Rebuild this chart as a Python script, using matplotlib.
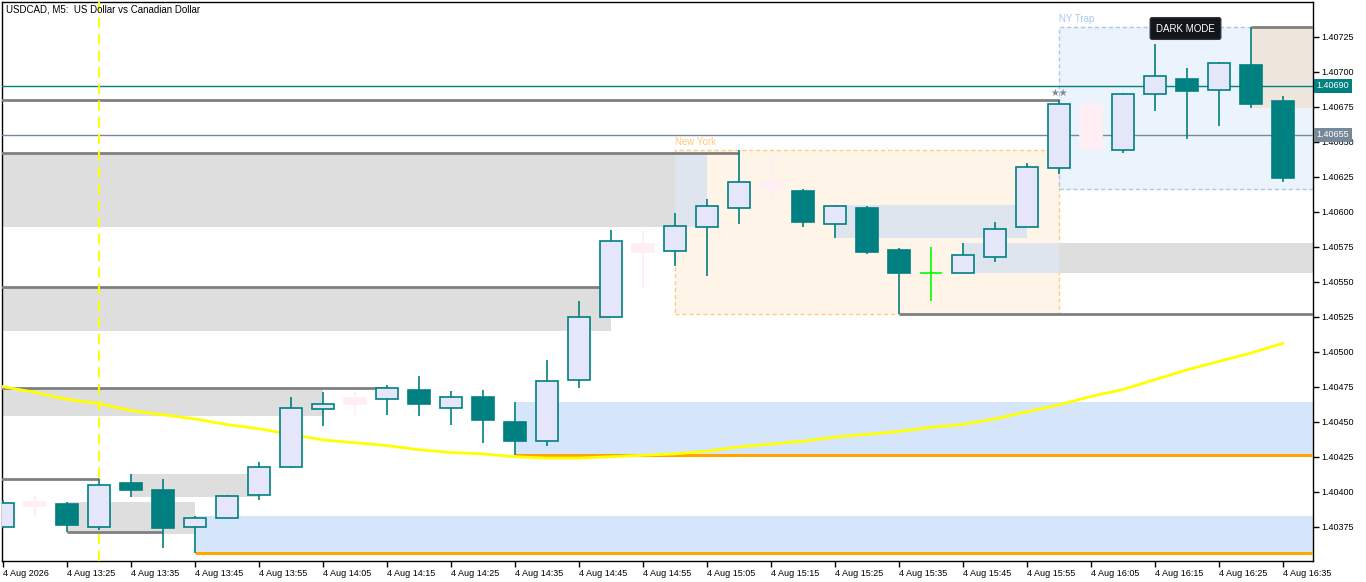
import matplotlib
matplotlib.use("Agg")
import matplotlib.pyplot as plt
from matplotlib.patches import Rectangle

plt.rcParams['font.family'] = ['Liberation Sans', 'DejaVu Sans']

#-------------------------------------------------------------------------------
# USDCAD M5 candles, 13:15 .. 16:35 (one per 5 minutes)
opens  = [1.40375, 1.40390, 1.40391, 1.40375, 1.40406, 1.40401, 1.40375, 1.40381,
          1.40398, 1.40418, 1.40459, 1.40463, 1.40466, 1.40473, 1.40460, 1.40468,
          1.40450, 1.40436, 1.40480, 1.40525, 1.40571, 1.40572, 1.40589, 1.40603,
          1.40616, 1.40615, 1.40591, 1.40603, 1.40573, 1.40556, 1.40556, 1.40568,
          1.40589, 1.40631, 1.40645, 1.40644, 1.40684, 1.40695, 1.40687, 1.40705,
          1.40679]
highs  = [1.40394, 1.40398, 1.40393, 1.40409, 1.40413, 1.40409, 1.40383, 1.40398,
          1.40421, 1.40468, 1.40471, 1.40471, 1.40476, 1.40483, 1.40472, 1.40473,
          1.40464, 1.40494, 1.40536, 1.40587, 1.40586, 1.40599, 1.40609, 1.40644,
          1.40641, 1.40616, 1.40605, 1.40604, 1.40574, 1.40575, 1.40578, 1.40593,
          1.40635, 1.40680, 1.40682, 1.40685, 1.40720, 1.40703, 1.40707, 1.40732,
          1.40683]
lows   = [1.40374, 1.40382, 1.40371, 1.40373, 1.40396, 1.40360, 1.40356, 1.40381,
          1.40394, 1.40417, 1.40447, 1.40455, 1.40455, 1.40454, 1.40448, 1.40435,
          1.40426, 1.40433, 1.40474, 1.40525, 1.40545, 1.40561, 1.40554, 1.40591,
          1.40607, 1.40589, 1.40581, 1.40570, 1.40527, 1.40536, 1.40556, 1.40564,
          1.40589, 1.40627, 1.40643, 1.40642, 1.40672, 1.40652, 1.40661, 1.40674,
          1.40621]
closes = [1.40392, 1.40393, 1.40376, 1.40405, 1.40401, 1.40374, 1.40381, 1.40397,
          1.40418, 1.40460, 1.40463, 1.40467, 1.40474, 1.40463, 1.40468, 1.40451,
          1.40436, 1.40479, 1.40525, 1.40579, 1.40577, 1.40590, 1.40604, 1.40621,
          1.40621, 1.40593, 1.40604, 1.40571, 1.40556, 1.40556, 1.40569, 1.40588,
          1.40632, 1.40677, 1.40676, 1.40684, 1.40697, 1.40686, 1.40706, 1.40677,
          1.40624]
# n = normal, p = faded pink, g = green doji
kinds = ['n', 'p', 'n', 'n', 'n', 'n', 'n', 'n', 'n', 'n', 'n', 'p', 'n', 'n',
         'n', 'n', 'n', 'n', 'n', 'n', 'p', 'n', 'n', 'n', 'p', 'n', 'n', 'n',
         'n', 'g', 'n', 'n', 'n', 'n', 'p', 'n', 'n', 'n', 'n', 'n', 'n']

# yellow moving average
ma = [1.40475, 1.40471, 1.40466, 1.40463, 1.40458, 1.40455, 1.40452, 1.40448,
      1.40445, 1.40441, 1.40437, 1.40435, 1.40433, 1.40430, 1.40428, 1.40427,
      1.40425, 1.40424, 1.40424, 1.40425, 1.40426, 1.40427, 1.40429, 1.40432,
      1.40434, 1.40436, 1.40439, 1.40441, 1.40443, 1.40446, 1.40448, 1.40452,
      1.40457, 1.40462, 1.40468, 1.40473, 1.40480, 1.40487, 1.40493, 1.40499,
      1.40506]

time_labels = ['4 Aug 2026', '4 Aug 13:25', '4 Aug 13:35', '4 Aug 13:45', '4 Aug 13:55',
               '4 Aug 14:05', '4 Aug 14:15', '4 Aug 14:25', '4 Aug 14:35', '4 Aug 14:45',
               '4 Aug 14:55', '4 Aug 15:05', '4 Aug 15:15', '4 Aug 15:25', '4 Aug 15:35',
               '4 Aug 15:45', '4 Aug 15:55', '4 Aug 16:05', '4 Aug 16:15', '4 Aug 16:25',
               '4 Aug 16:35']
price_ticks = [1.40375, 1.40400, 1.40425, 1.40450, 1.40475, 1.40500, 1.40525, 1.40550,
               1.40575, 1.40600, 1.40625, 1.40650, 1.40675, 1.40700, 1.40725]

# zones: (start bar, end bar, low, high)  end 99 = to the right edge
gray_zones = [(-1, 22, 1.40589, 1.40642), (-1, 19, 1.40515, 1.40546),
              (-1, 10, 1.40454, 1.40474), (4, 8, 1.40396, 1.40413),
              (2, 6, 1.40370, 1.40393), (26, 32, 1.40581, 1.40605),
              (30, 99, 1.40556, 1.40578)]
blue_zones = [(16, 99, 1.40426, 1.40464), (6, 99, 1.40356, 1.40383)]
tan_zone = (39, 99, 1.40674, 1.40732)
# level lines: (start bar, end bar, price)
gray_lines = [(-1, 23, 1.40642), (-1, 19, 1.40546), (-1, 12, 1.40474),
              (-1, 3, 1.40409), (2, 5, 1.40371), (28, 99, 1.40527),
              (-1, 33, 1.40680), (39, 99, 1.40732)]
orange_lines = [(16, 99, 1.40426), (6, 99, 1.40356)]
ny_box = (21, 33, 1.40527, 1.40644)
ny_trap = (33, 99, 1.40616, 1.40732)
bid = 1.40690
level2 = 1.40655
vline_bar = 3

#-------------------------------------------------------------------------------
W, H = 1366, 582
fig = plt.figure(figsize=(W / 100, H / 100), dpi=100)
ax = fig.add_axes([2.3 / W, (H - 561) / H, (1313.3 - 2.3) / W, (561 - 2) / H])
x_lo, x_hi = -0.0125, 40.956
ax.set_xlim(x_lo, x_hi)
ax.set_ylim(1.403505, 1.407498)

def span(a, b):
	return max(a, x_lo - 1), min(b, x_hi + 1)

# NY boxes
x0, x1 = span(ny_box[0], ny_box[1])
ax.add_patch(Rectangle((x0, ny_box[2]), x1 - x0, ny_box[3] - ny_box[2],
                       fc='#FEF5E8', ec='#FFCC80', ls=(0, (3, 2)), lw=1, zorder=1))
ax.text(x0, ny_box[3] + 0.00002, 'New York', color='#FFC878', fontsize=7,
        va='bottom', ha='left', zorder=6)
x0, x1 = span(ny_trap[0], ny_trap[1])
ax.add_patch(Rectangle((x0, ny_trap[2]), x1 - x0, ny_trap[3] - ny_trap[2],
                       fc='#EBF3FD', ec='#A8C8F0', ls=(0, (3, 2)), lw=1, zorder=1))
ax.text(x0, ny_trap[3] + 0.00002, 'NY Trap', color='#A8C8F0', fontsize=7,
        va='bottom', ha='left', zorder=6)

# zones (parts inside the New York box look bluish)
for (a, b, lo, hi) in gray_zones:
	x0, x1 = span(a, b)
	ax.add_patch(Rectangle((x0, lo), x1 - x0, hi - lo, fc='#DEDEDE', ec='none', zorder=2))
	o0, o1 = max(x0, ny_box[0]), min(x1, ny_box[1])
	if o1 > o0:
		olo, ohi = max(lo, ny_box[2]), min(hi, ny_box[3])
		ax.add_patch(Rectangle((o0, olo), o1 - o0, ohi - olo, fc='#DFE5EE', ec='none', zorder=2))
for (a, b, lo, hi) in blue_zones:
	x0, x1 = span(a, b)
	ax.add_patch(Rectangle((x0, lo), x1 - x0, hi - lo, fc='#D6E6FA', ec='none', zorder=2))
x0, x1 = span(tan_zone[0], tan_zone[1])
ax.add_patch(Rectangle((x0, tan_zone[2]), x1 - x0, tan_zone[3] - tan_zone[2],
                       fc='#EEE6DC', ec='none', zorder=2))

for (a, b, p) in gray_lines:
	x0, x1 = span(a, b)
	ax.plot([x0, x1], [p, p], color='#808080', lw=2, zorder=3, solid_capstyle='butt')
for (a, b, p) in orange_lines:
	x0, x1 = span(a, b)
	ax.plot([x0, x1], [p, p], color='#FFA500', lw=2.2, zorder=3, solid_capstyle='butt')

ax.axhline(bid, color='#008080', lw=1, zorder=3)
ax.axhline(level2, color='#778899', lw=1, zorder=3)
ax.axvline(vline_bar, color='#FFFF00', lw=1.5, ls=(0, (5, 3)), zorder=3)

# moving average
ax.plot(range(len(ma)), ma, color='#FFFF00', lw=2, zorder=4)

# candles
bw = 0.69
for i in range(len(opens)):
	o, h, l, c = opens[i], highs[i], lows[i], closes[i]
	if kinds[i] == 'g':
		ax.vlines(i, l, h, color='#00FF00', lw=1.2, zorder=5)
		ax.hlines(o, i - bw / 2, i + bw / 2, color='#00FF00', lw=1.2, zorder=5)
		continue
	if kinds[i] == 'p':
		wc, fc, ec = '#FFEEF3', '#FFEEF3', '#FFEEF3'
	elif c >= o:
		wc, fc, ec = '#008080', '#E6E6FA', '#008080'
	else:
		wc, fc, ec = '#008080', '#008080', '#008080'
	ax.vlines(i, l, h, color=wc, lw=1.2, zorder=5)
	ax.bar(i, max(abs(c - o), 0.000008), bottom=min(o, c), width=bw,
	       color=fc, edgecolor=ec, lw=1.2, zorder=6)

ax.text(33, highs[33] + 0.00001, '\u2605\u2605', color='#888888', fontsize=7,
        ha='center', va='bottom', family=['DejaVu Sans'], zorder=7)

# axes
ax.set_xticks(range(0, len(opens), 2))
ax.set_xticklabels(time_labels, fontsize=6.5, ha='left')
ax.set_yticks(price_ticks)
ax.set_yticklabels(['%.5f' % p for p in price_ticks], fontsize=6.5)
ax.yaxis.tick_right()
ax.tick_params(axis='both', length=4, width=1, color='black', pad=2)
for s in ax.spines.values():
	s.set_color('black')
	s.set_linewidth(1)

ytr = ax.get_yaxis_transform()
ax.text(1.0025, bid, '%.5f' % bid, transform=ytr, fontsize=6.5, color='white',
        va='center', ha='left', bbox=dict(boxstyle='square,pad=0.3', fc='#008080', ec='none'),
        clip_on=False, zorder=8)
ax.text(1.0025, level2, '%.5f' % level2, transform=ytr, fontsize=6.5, color='white',
        va='center', ha='left', bbox=dict(boxstyle='square,pad=0.3', fc='#778899', ec='none'),
        clip_on=False, zorder=8)

fig.text(6 / W, 1 - 10 / H, 'USDCAD, M5:  US Dollar vs Canadian Dollar', fontsize=7,
         va='center', ha='left')
fig.text(1185.5 / W, 1 - 28.5 / H, 'DARK MODE', fontsize=7, color='white', va='center',
         ha='center', bbox=dict(boxstyle='round,pad=0.6,rounding_size=0.2', fc='#11151C', ec='#333333'),
         zorder=10)

fig.savefig('out.png', dpi=100)
